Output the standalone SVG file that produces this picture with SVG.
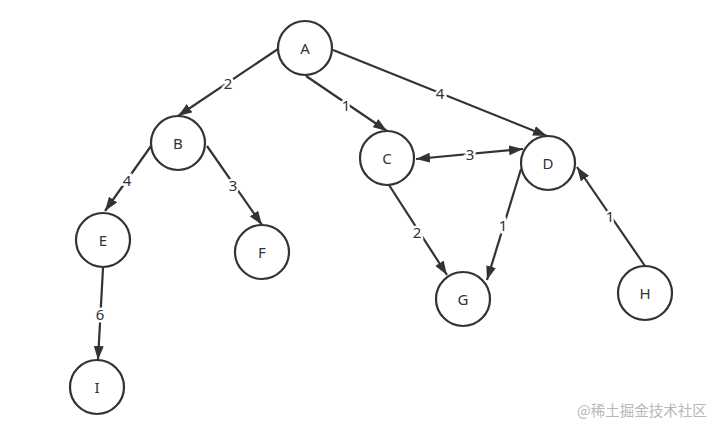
<svg xmlns="http://www.w3.org/2000/svg" width="715" height="425" viewBox="0 0 715 425">
<style>
.node circle{fill:#fff;stroke:#333;stroke-width:2.2}
.node text{font-family:"Noto Sans","Open Sans",sans-serif;font-size:15px;fill:#333;text-anchor:middle;dominant-baseline:central}
.edges line{stroke:#333;stroke-width:2.2;marker-end:url(#arr)}
.lbl{font-family:"Noto Sans","Open Sans",sans-serif;font-size:15px;fill:#333;text-anchor:middle;dominant-baseline:central;stroke:#fff;stroke-width:5;paint-order:stroke}
.wm{font-family:"Noto Sans CJK SC",sans-serif;font-size:14.5px;fill:#b8b8b8}
</style>
<defs>
<marker id="arr" viewBox="0 0 14 10" markerWidth="14" markerHeight="10" refX="14" refY="5" markerUnits="userSpaceOnUse" orient="auto-start-reverse">
<path d="M0,0 L14,5 L0,10 z" fill="#333"/>
</marker>
</defs>
<rect width="715" height="425" fill="#fff"/>
<g class="edges" id="connectors">
<line x1="278" y1="49" x2="178" y2="116"/>
<line x1="306" y1="76" x2="387" y2="131"/>
<line x1="333" y1="50" x2="547" y2="136"/>
<line x1="416" y1="159" x2="523" y2="149" style="marker-start:url(#arr)"/>
<line x1="151" y1="146" x2="105" y2="211"/>
<line x1="207" y1="146" x2="262" y2="225"/>
<line x1="103" y1="268" x2="98" y2="360"/>
<line x1="389" y1="185" x2="447" y2="275"/>
<line x1="521" y1="169" x2="487" y2="280"/>
<line x1="645" y1="266" x2="577" y2="167"/>
<text class="lbl" x="228" y="83">2</text>
<text class="lbl" x="346" y="105">1</text>
<text class="lbl" x="440" y="93">4</text>
<text class="lbl" x="470" y="154">3</text>
<text class="lbl" x="127" y="180">4</text>
<text class="lbl" x="233" y="185">3</text>
<text class="lbl" x="100" y="314">6</text>
<text class="lbl" x="417" y="232">2</text>
<text class="lbl" x="503" y="225">1</text>
<text class="lbl" x="610" y="216">1</text>
</g>
<g class="node" id="A"><circle cx="305" cy="48" r="27"/><text x="305" y="48">A</text></g>
<g class="node" id="B"><circle cx="178" cy="143" r="27"/><text x="178" y="143">B</text></g>
<g class="node" id="C"><circle cx="387" cy="158" r="27"/><text x="387" y="158">C</text></g>
<g class="node" id="D"><circle cx="548" cy="163" r="27"/><text x="548" y="163">D</text></g>
<g class="node" id="E"><circle cx="103" cy="240" r="27"/><text x="103" y="240">E</text></g>
<g class="node" id="F"><circle cx="262" cy="252" r="27"/><text x="262" y="252">F</text></g>
<g class="node" id="G"><circle cx="463" cy="299" r="27"/><text x="463" y="299">G</text></g>
<g class="node" id="H"><circle cx="645" cy="293" r="27"/><text x="645" y="293">H</text></g>
<g class="node" id="I"><circle cx="97" cy="387" r="27"/><text x="97" y="387">I</text></g>
<text class="wm" x="577" y="416">@稀土掘金技术社区</text>
</svg>
